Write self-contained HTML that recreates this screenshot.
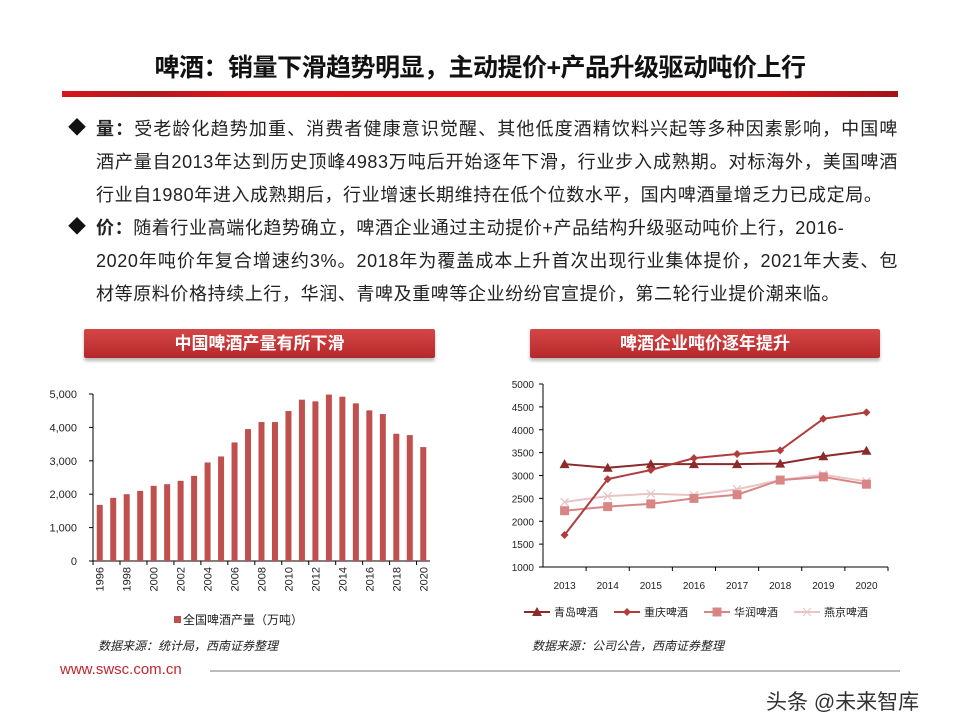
<!DOCTYPE html>
<html><head><meta charset="utf-8">
<style>
body{margin:0;width:960px;height:720px;background:#fff;font-family:"Liberation Sans","Noto Sans CJK SC",sans-serif;position:relative;overflow:hidden}
.title{position:absolute;left:0;width:960px;top:48px;text-align:center;font-size:25px;font-weight:bold;color:#111;letter-spacing:-0.5px}
.bar{position:absolute;left:62px;top:91px;width:836px;height:6px;background:linear-gradient(90deg,#d8141c 0%,#b01a1f 10%,#e0141c 22%,#d8141c 85%,#a0141a 100%)}
.para{position:absolute;left:96px;width:802px;font-size:18px;line-height:33px;color:#222;letter-spacing:0.6px}
.para span{display:block;white-space:nowrap;text-align:justify;text-align-last:justify}
.para span.last{text-align-last:left}
.dia{position:absolute;left:68px;font-size:18px;color:#111}
.hdr{position:absolute;top:329px;height:29px;background:linear-gradient(#d64646,#b5282a);color:#fff;font-weight:bold;font-size:17px;text-align:center;line-height:29px;box-shadow:0 3px 3px #bbb;border-radius:2px}
.src{position:absolute;top:637px;font-size:12px;font-style:italic;color:#222}
</style></head><body>
<div class="title">啤酒：销量下滑趋势明显，主动提价+产品升级驱动吨价上行</div>
<div class="bar"></div>
<div class="dia" style="top:114px">◆</div>
<div class="para" style="top:113px"><span><b>量：</b>受老龄化趋势加重、消费者健康意识觉醒、其他低度酒精饮料兴起等多种因素影响，中国啤</span><span>酒产量自2013年达到历史顶峰4983万吨后开始逐年下滑，行业步入成熟期。对标海外，美国啤酒</span><span class="last">行业自1980年进入成熟期后，行业增速长期维持在低个位数水平，国内啤酒量增乏力已成定局。</span></div>
<div class="dia" style="top:213px">◆</div>
<div class="para" style="top:212px"><span class="last"><b>价：</b>随着行业高端化趋势确立，啤酒企业通过主动提价+产品结构升级驱动吨价上行，2016-</span><span>2020年吨价年复合增速约3%。2018年为覆盖成本上升首次出现行业集体提价，2021年大麦、包</span><span class="last">材等原料价格持续上行，华润、青啤及重啤等企业纷纷官宣提价，第二轮行业提价潮来临。</span></div>
<div class="hdr" style="left:84px;width:351px">中国啤酒产量有所下滑</div>
<div class="hdr" style="left:530px;width:350px">啤酒企业吨价逐年提升</div>
<svg id="c1" width="960" height="720" style="position:absolute;left:0;top:0"></svg>
<div class="src" style="left:98px">数据来源：统计局，西南证券整理</div>
<div class="src" style="left:532px">数据来源：公司公告，西南证券整理</div>
<div style="position:absolute;left:60px;top:661px;font-size:15px;color:#c0262b">www.swsc.com.cn</div>
<div style="position:absolute;left:210px;top:670px;width:690px;height:2px;background:#bbb"></div>
<div style="position:absolute;left:766px;top:686px;font-size:21px;color:#333">头条 @未来智库</div>
<script>
const years=["1996","1997","1998","1999","2000","2001","2002","2003","2004","2005","2006","2007","2008","2009","2010","2011","2012","2013","2014","2015","2016","2017","2018","2019","2020"];
const output=[1680,1890,2000,2100,2250,2300,2400,2550,2950,3130,3550,3950,4160,4160,4490,4830,4780,4983,4920,4720,4510,4400,3810,3770,3410];
const leftTicks=[0,1000,2000,3000,4000,5000];
const leftTickLabels=["0","1,000","2,000","3,000","4,000","5,000"];
const lineYears=["2013","2014","2015","2016","2017","2018","2019","2020"];
const tsingtao=[3250,3170,3250,3250,3250,3260,3420,3540];
const chongqing=[1700,2920,3120,3380,3470,3550,4240,4380];
const cr=[2230,2320,2380,2500,2580,2900,2970,2810];
const yanjing=[2420,2550,2600,2570,2700,2900,3020,2870];
const rightTicks=[1000,1500,2000,2500,3000,3500,4000,4500,5000];
const svg=document.getElementById('c1');const NS='http://www.w3.org/2000/svg';
function mk(t,a,txt){const e=document.createElementNS(NS,t);for(const k in a)e.setAttribute(k,a[k]);if(txt!==undefined)e.textContent=txt;svg.appendChild(e);return e;}
const L={x0:93,x1:430,y0:561,y1:394,max:5000};
const lx=i=>L.x0+(L.x1-L.x0)/years.length*(i+0.5);
const ly=v=>L.y0-(L.y0-L.y1)*v/L.max;
let e;
e=mk('line',{x1:L.x0,y1:L.y1,x2:L.x0,y2:L.y0,stroke:'#000'});
e=mk('line',{x1:L.x0,y1:L.y0,x2:L.x1,y2:L.y0,stroke:'#000'});
leftTicks.forEach((t,i)=>{mk('line',{x1:L.x0-4,x2:L.x0,y1:ly(t),y2:ly(t),stroke:'#000'});
e=mk('text',{x:L.x0-16,y:ly(t)+4,'font-size':11,'text-anchor':'end',fill:'#222'},leftTickLabels[i]);});
years.forEach((y,i)=>{
const xc=lx(i);
e=mk('rect',{x:xc-3,y:ly(output[i]),width:6,height:L.y0-ly(output[i]),fill:'#c0504d'});
if(i%2==0){mk('line',{x1:xc-6.7,x2:xc-6.7,y1:L.y0,y2:L.y0+4,stroke:'#000'});
e=mk('text',{x:0,y:0,'font-size':11,'text-anchor':'end',fill:'#222',transform:`translate(${xc+4},${L.y0+6}) rotate(-90)`},y);}
});
e=mk('rect',{x:174,y:616,width:7,height:7,fill:'#c0504d'});
e=mk('text',{x:183,y:624,'font-size':12,fill:'#222'},'全国啤酒产量（万吨）');
const R={x0:543,x1:888,y0:567,y1:384,min:1000,max:5000};
const rx=i=>R.x0+(R.x1-R.x0)/lineYears.length*(i+0.5);
const ry=v=>R.y0-(R.y0-R.y1)*(v-R.min)/(R.max-R.min);
e=mk('line',{x1:R.x0,y1:R.y1,x2:R.x0,y2:R.y0,stroke:'#000'});
e=mk('line',{x1:R.x0,y1:R.y0,x2:R.x1,y2:R.y0,stroke:'#000'});
rightTicks.forEach(t=>{mk('line',{x1:R.x0-4,x2:R.x0,y1:ry(t),y2:ry(t),stroke:'#000'});
e=mk('text',{x:R.x0-9,y:ry(t)+4,'font-size':10,'text-anchor':'end',fill:'#222'},String(t));});
lineYears.forEach((y,i)=>{const w=(R.x1-R.x0)/lineYears.length;mk('line',{x1:R.x0+w*(i+1),x2:R.x0+w*(i+1),y1:R.y0,y2:R.y0+4,stroke:'#000'});
e=mk('text',{x:rx(i),y:R.y0+22,'font-size':10,'text-anchor':'middle',fill:'#222'},y);});
function marker(type,x,y,c){
if(type=='tri')return mk('polygon',{points:`${x},${y-5} ${x-5},${y+4} ${x+5},${y+4}`,fill:c});
if(type=='dia')return mk('polygon',{points:`${x},${y-4} ${x+4},${y} ${x},${y+4} ${x-4},${y}`,fill:c});
if(type=='sq')return mk('rect',{x:x-4.5,y:y-4.5,width:9,height:9,fill:c});
return mk('path',{d:`M${x-4},${y-4}L${x+4},${y+4}M${x+4},${y-4}L${x-4},${y+4}`,stroke:c,'stroke-width':1.2});}
const series=[[yanjing,'#e8c4c4','x','yanjing'],[cr,'#d98585','sq','cr'],[tsingtao,'#8b2a2a','tri','tsingtao'],[chongqing,'#b03c3c','dia','chongqing']];
series.forEach(([d,c,m,n])=>{
e=mk('polyline',{points:d.map((v,i)=>rx(i)+','+ry(v)).join(' '),fill:'none',stroke:c,'stroke-width':2});
d.forEach((v,i)=>{e=marker(m,rx(i),ry(v),c);});});
const leg=[['青岛啤酒','#8b2a2a','tri',524],['重庆啤酒','#b03c3c','dia',614],['华润啤酒','#d98585','sq',704],['燕京啤酒','#e8c4c4','x',794]];
leg.forEach(([t,c,m,x])=>{mk('line',{x1:x,x2:x+26,y1:612,y2:612,stroke:c,'stroke-width':2});marker(m,x+13,612,c);
e=mk('text',{x:x+30,y:616,'font-size':11,fill:'#222'},t);});
</script>
</body></html>
